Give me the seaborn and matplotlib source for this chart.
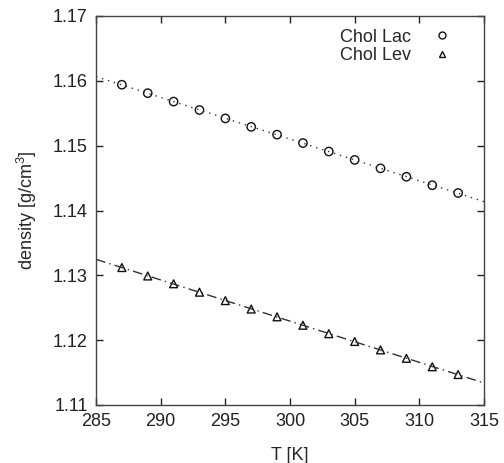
import numpy as np
import pandas as pd
import matplotlib
matplotlib.use("Agg")
import matplotlib.pyplot as plt
import seaborn as sns
from matplotlib.lines import Line2D

# ---- data ----
temperature = [287, 289, 291, 293, 295, 297, 299, 301, 303, 305, 307, 309, 311, 313]
density_lac = [1.1594, 1.1581, 1.1568, 1.1555, 1.1542, 1.1529, 1.1517,
               1.1504, 1.1491, 1.1478, 1.1465, 1.1452, 1.1439, 1.1427]
density_lev = [1.1312, 1.1299, 1.1287, 1.1274, 1.1261, 1.1248, 1.1236,
               1.1223, 1.1210, 1.1198, 1.1185, 1.1172, 1.1159, 1.1147]
fit_range = [285, 315]
series_names = ["Chol Lac", "Chol Lev"]
x_ticks = [285, 290, 295, 300, 305, 310, 315]
y_ticks = [1.11, 1.12, 1.13, 1.14, 1.15, 1.16, 1.17]

sns.set_theme(style="ticks")
plt.rcParams["font.family"] = ["Liberation Sans", "DejaVu Sans"]
plt.rcParams["mathtext.fontset"] = "custom"
plt.rcParams["mathtext.rm"] = "Liberation Sans"

df = pd.DataFrame({"T": temperature * 2,
                   "rho": density_lac + density_lev,
                   "series": [series_names[0]] * len(temperature) + [series_names[1]] * len(temperature)})

# linear fits
fits = []
for name, vals in zip(series_names, [density_lac, density_lev]):
    p = np.polyfit(temperature, vals, 1)
    fits.append(pd.DataFrame({"T": fit_range, "rho": np.polyval(p, fit_range)}))

fig = plt.figure(figsize=(5.04, 4.63), dpi=100)
ax = fig.add_axes([96 / 504, 58 / 463, 388 / 504, 389 / 463])

line_color = "#333333"
sns.lineplot(data=fits[0], x="T", y="rho", ax=ax, color=line_color, lw=1.0,
             linestyle=(0, (1, 3.5)))
sns.lineplot(data=fits[1], x="T", y="rho", ax=ax, color=line_color, lw=1.0,
             linestyle=(0, (7, 3, 1, 3)))

sns.scatterplot(data=df[df.series == series_names[0]], x="T", y="rho", ax=ax,
                marker="o", s=36, facecolor="none", edgecolor="#111111", linewidth=1.0)
sns.scatterplot(data=df[df.series == series_names[1]], x="T", y="rho", ax=ax,
                marker="^", s=32, facecolor="none", edgecolor="#111111", linewidth=1.0)

ax.set_xlim(285, 315)
ax.set_ylim(1.11, 1.17)
ax.set_xticks(x_ticks)
ax.set_yticks(y_ticks)
ax.set_yticklabels([f"{v:.2f}" for v in y_ticks])
ax.tick_params(direction="in", length=5, width=1, top=True, right=True,
               labelsize=13, colors="#222222", pad=6)
for sp in ax.spines.values():
    sp.set_linewidth(1.0)
    sp.set_color("#444444")
    sp.set_visible(True)

ax.set_xlabel("T [K]", fontsize=13, labelpad=12)
ax.set_ylabel("density [g/cm$^3$]", fontsize=13, labelpad=10)

handles = [Line2D([], [], marker="o", ls="none", mfc="none", mec="#111111", ms=5, mew=1.0),
           Line2D([], [], marker="^", ls="none", mfc="none", mec="#111111", ms=5, mew=1.0)]
ax.legend(handles, series_names, loc="upper right", frameon=False, markerfirst=False,
          fontsize=13, handletextpad=0.7, borderaxespad=0.3, labelspacing=0.1,
          bbox_to_anchor=(0.97, 1.0))

fig.savefig("out.png", dpi=100)
